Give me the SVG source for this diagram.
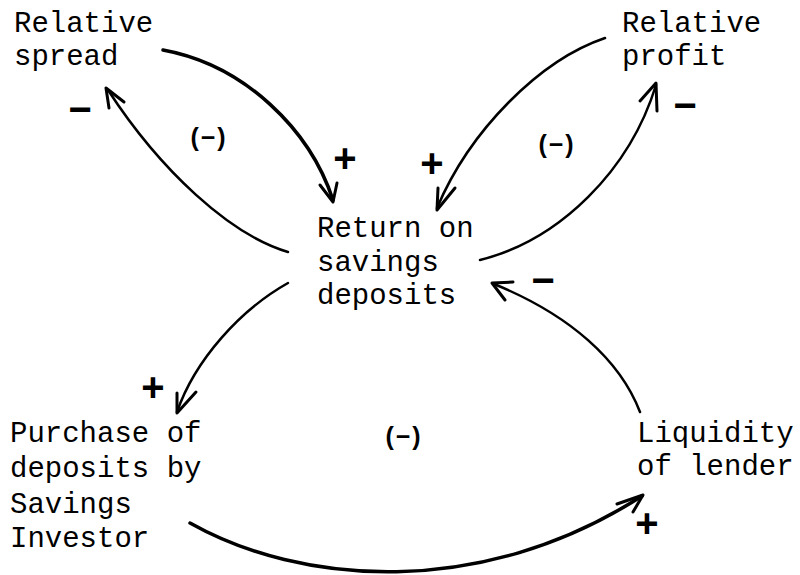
<svg xmlns="http://www.w3.org/2000/svg" width="800" height="575" viewBox="0 0 800 575">
<style>
.node text{font-family:"Liberation Mono","DejaVu Sans Mono",monospace;font-size:29px;fill:#000}
.link{fill:none;stroke:#000;stroke-width:2.5;stroke-linecap:round}
.thick{stroke-width:3.5}
.head{fill:none;stroke:#000;stroke-width:3;stroke-linecap:round;stroke-linejoin:round}
.sign{font-family:"Liberation Sans",Arial,sans-serif;font-weight:bold;font-size:40px;text-anchor:middle;fill:#000}
.loop{font-family:"Liberation Sans",Arial,sans-serif;font-weight:bold;font-size:25px;text-anchor:middle;fill:#000;letter-spacing:2px}
</style>
<rect width="800" height="575" fill="#fff"/>
<g id="connectors">
  <path class="link thick" d="M163,50 C245,65 310,130 333,200"/>
  <path class="head" d="M320,185 L333,202 L337,183"/>
  <path class="link" d="M288,252 C230,235 160,170 108,90"/>
  <path class="head" d="M124,102 L106,88 L109,108"/>
  <path class="link" d="M605,38 C540,60 470,130 437,208"/>
  <path class="head" d="M438,188 L437,210 L455,188"/>
  <path class="link" d="M480,260 C560,240 630,170 656,85"/>
  <path class="head" d="M640,101 L656,83 L657,111"/>
  <path class="link" d="M288,283 C240,310 195,360 177,412"/>
  <path class="head" d="M177,393 L177,413 L196,392"/>
  <path class="link" d="M640,412 C620,360 570,315 494,284"/>
  <path class="head" d="M513,282 L492,283 L505,300"/>
  <path class="link thick" d="M190,523 C300,585 480,600 642,496"/>
  <path class="head" d="M617,504 L643,495 L633,512"/>
</g>
<g id="signs">
  <text class="sign" x="80" y="123">−</text>
  <text class="sign" x="345" y="172">+</text>
  <text class="sign" x="432" y="177">+</text>
  <text class="sign" x="685" y="119">−</text>
  <text class="sign" x="153" y="401">+</text>
  <text class="sign" x="543" y="294">−</text>
  <text class="sign" x="647" y="537">+</text>
  <text class="loop" x="209" y="146">(−)</text>
  <text class="loop" x="557" y="153">(−)</text>
  <text class="loop" x="404" y="445">(−)</text>
</g>
<g id="n_spread" class="node">
  <text x="14" y="32">Relative</text>
  <text x="14" y="65">spread</text>
</g>
<g id="n_profit" class="node">
  <text x="622" y="32">Relative</text>
  <text x="622" y="65">profit</text>
</g>
<g id="n_return" class="node">
  <text x="317" y="237">Return on</text>
  <text x="317" y="271">savings</text>
  <text x="317" y="304">deposits</text>
</g>
<g id="n_purchase" class="node">
  <text x="10" y="442">Purchase of</text>
  <text x="10" y="477">deposits by</text>
  <text x="10" y="513">Savings</text>
  <text x="10" y="547">Investor</text>
</g>
<g id="n_liquidity" class="node">
  <text x="637" y="442">Liquidity</text>
  <text x="637" y="475">of lender</text>
</g>
</svg>
